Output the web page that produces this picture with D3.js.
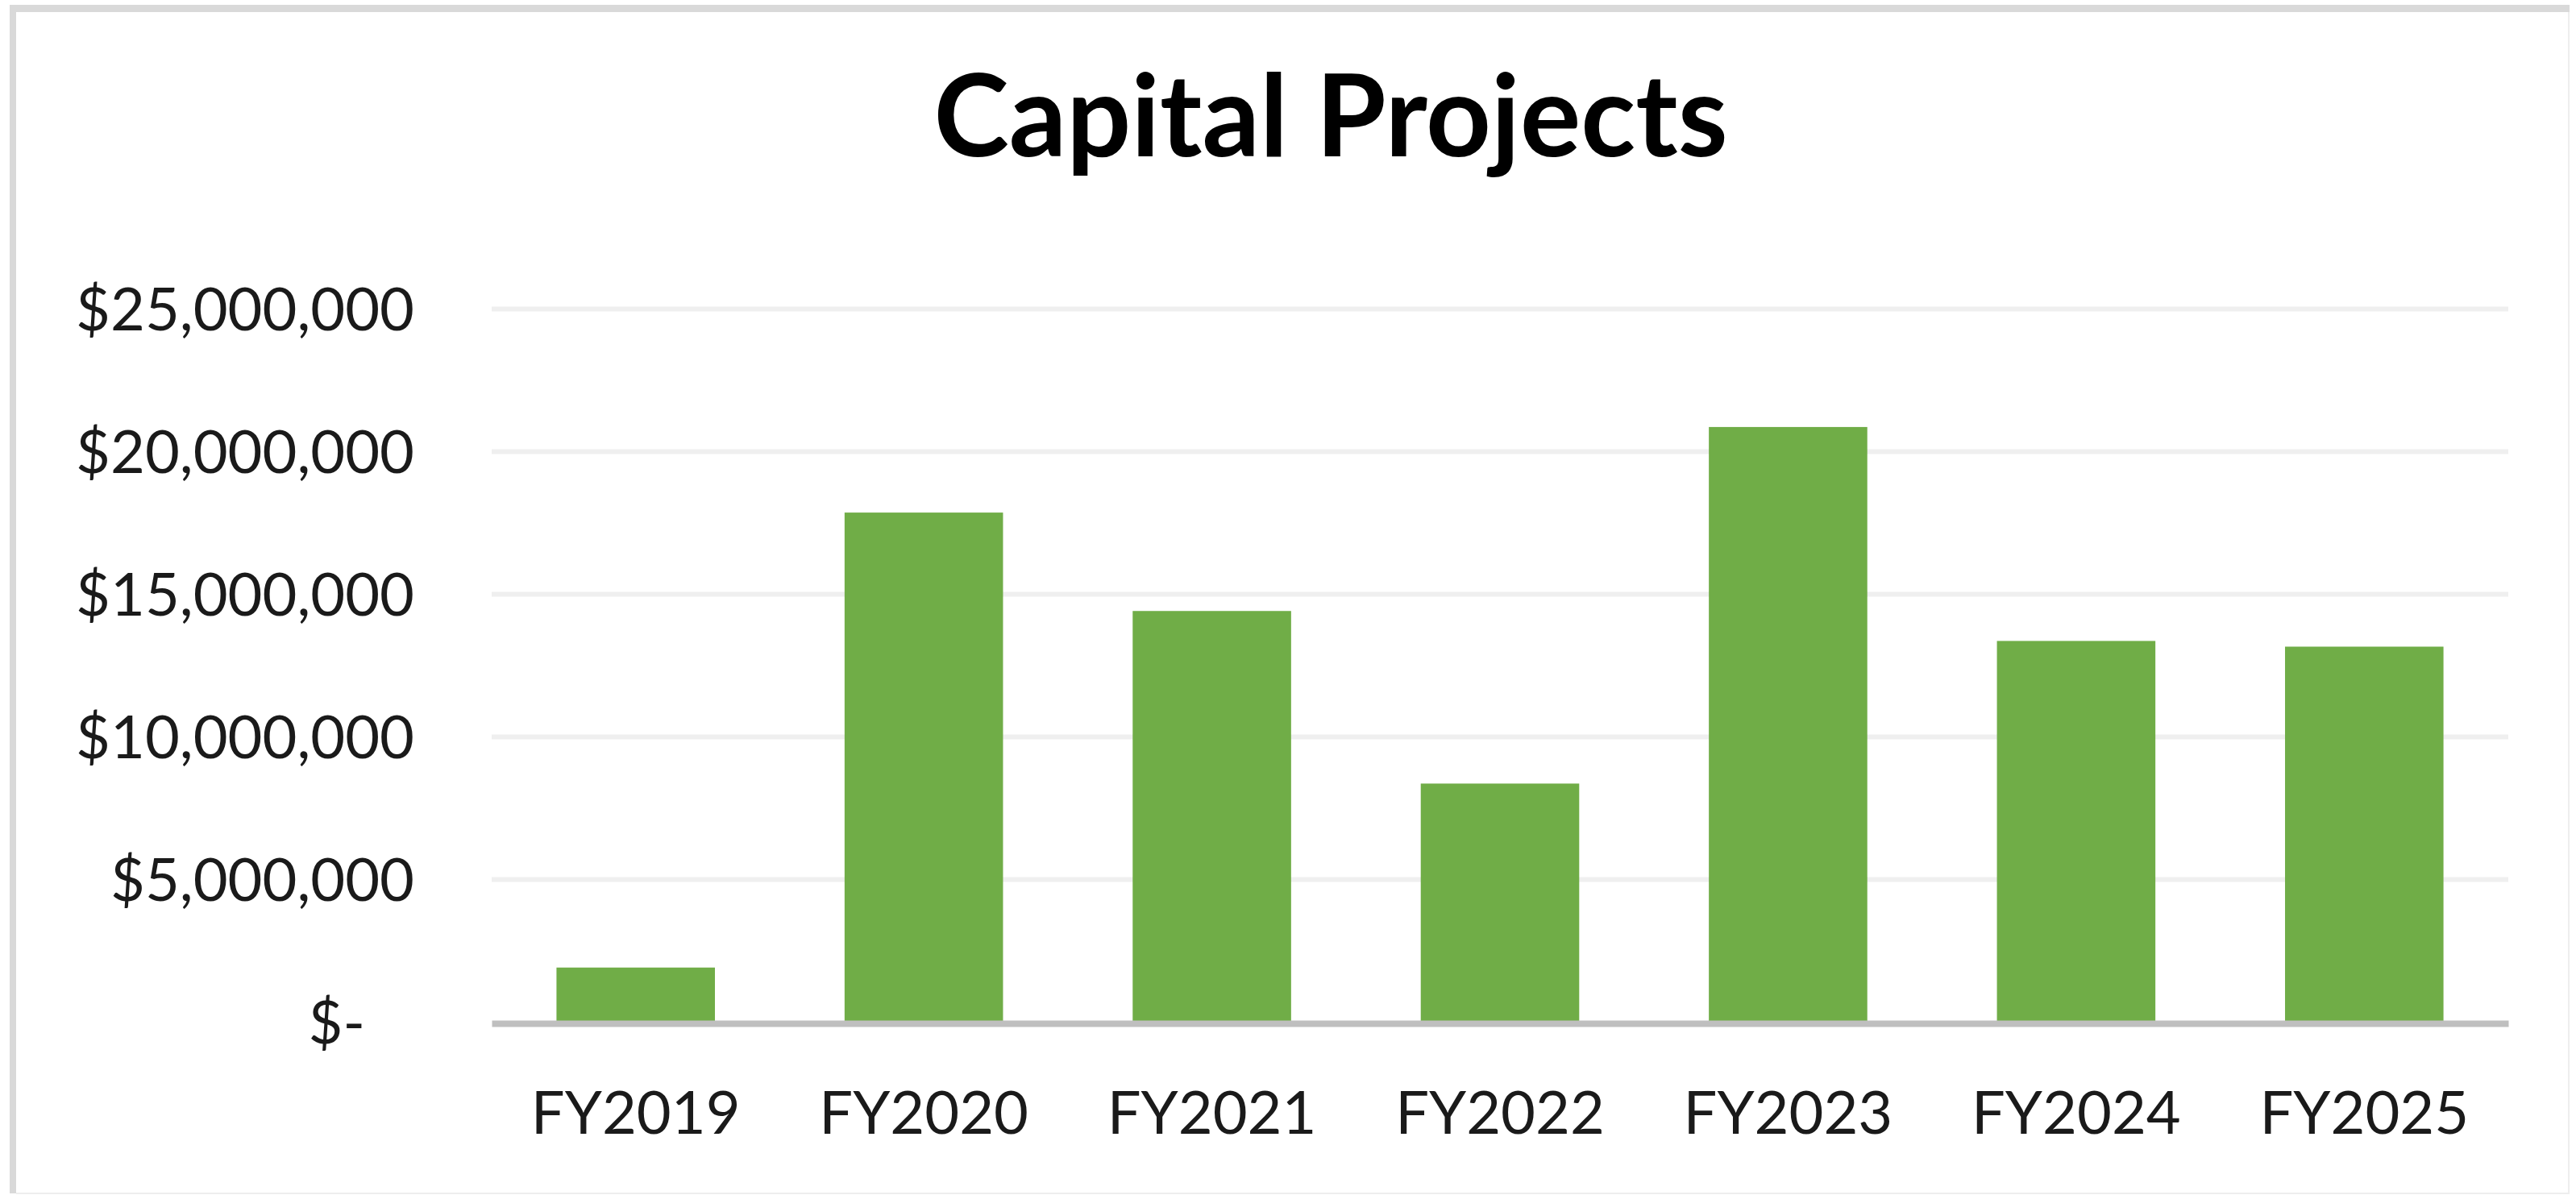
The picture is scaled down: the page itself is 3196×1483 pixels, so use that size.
<!DOCTYPE html>
<html>
<head>
<meta charset="utf-8">
<script src="https://cdn.jsdelivr.net/npm/d3@7"></script>
<style>
  html, body { margin: 0; padding: 0; background: #ffffff; }
  svg { display: block; }
</style>
</head>
<body>
<script>
// Capital project spending by fiscal year
const categories = ["FY2019", "FY2020", "FY2021", "FY2022", "FY2023", "FY2024", "FY2025"];
const values = [1900000, 17850000, 14400000, 8350000, 20850000, 13350000, 13150000];
const tickValues = [0, 5000000, 10000000, 15000000, 20000000, 25000000];
const tickLabels = ["$-", "$5,000,000", "$10,000,000", "$15,000,000", "$20,000,000", "$25,000,000"];
const title = "Capital Projects";

const W = 3196, H = 1483;
const plot = { left: 610, right: 3112, top: 383, bottom: 1268 };

const svg = d3.select("body").append("svg")
  .attr("width", W).attr("height", H);

svg.append("rect").attr("width", W).attr("height", H).attr("fill", "#ffffff");

// chart frame: heavier on the top and left edges, faint on the others
svg.append("line").attr("x1", 12).attr("x2", W - 8).attr("y1", 10.5).attr("y2", 10.5)
  .attr("stroke", "#d9d9d9").attr("stroke-width", 9);
svg.append("line").attr("x1", 16).attr("x2", 16).attr("y1", 6).attr("y2", H - 2)
  .attr("stroke", "#d9d9d9").attr("stroke-width", 8);
svg.append("line").attr("x1", W - 9).attr("x2", W - 9).attr("y1", 15).attr("y2", H - 2)
  .attr("stroke", "#eeeeee").attr("stroke-width", 2);
svg.append("line").attr("x1", 20).attr("x2", W - 8).attr("y1", H - 2).attr("y2", H - 2)
  .attr("stroke", "#eeeeee").attr("stroke-width", 2);

const x = d3.scaleBand()
  .domain(categories)
  .range([plot.left, plot.right])
  .paddingInner(0.45)
  .paddingOuter(0.225);

const y = d3.scaleLinear()
  .domain([0, 25000000])
  .range([plot.bottom, plot.top]);

// horizontal gridlines
const grid = svg.append("g")
  .attr("transform", `translate(${plot.left},0)`)
  .call(d3.axisLeft(y).tickValues(tickValues.slice(1))
    .tickSize(-(plot.right - plot.left)).tickFormat(""));
grid.select(".domain").remove();
grid.selectAll(".tick line").attr("stroke", "#efefef").attr("stroke-width", 6);

// y-axis labels
const yAxis = svg.append("g")
  .attr("transform", `translate(${plot.left},0)`)
  .call(d3.axisLeft(y).tickValues(tickValues).tickSize(0).tickPadding(96)
    .tickFormat((d, i) => tickLabels[i]));
yAxis.select(".domain").remove();
yAxis.selectAll(".tick text")
  .attr("font-family", "Lato, 'Open Sans', sans-serif")
  .attr("font-size", 74)
  .attr("fill", "#1a1a1a")
  .attr("dy", "0.36em")
  .attr("dx", (d) => d === 0 ? -61 : 0);

// bars
svg.append("g").selectAll("rect")
  .data(categories)
  .join("rect")
  .attr("x", (d) => x(d))
  .attr("width", x.bandwidth())
  .attr("y", (d, i) => y(values[i]))
  .attr("height", (d, i) => y(0) - y(values[i]))
  .attr("fill", "#70ad47");

// category axis
const xAxis = svg.append("g")
  .attr("transform", `translate(0,${plot.bottom + 2})`)
  .call(d3.axisBottom(x).tickSize(0).tickPadding(137));
xAxis.select(".domain")
  .attr("stroke", "#bfbfbf").attr("stroke-width", 8);
xAxis.selectAll(".tick text")
  .attr("font-family", "Lato, 'Open Sans', sans-serif")
  .attr("font-size", 74)
  .attr("fill", "#1a1a1a")
  .attr("dy", "0em");

// title
svg.append("text")
  .attr("x", 1651)
  .attr("y", 194)
  .attr("text-anchor", "middle")
  .attr("font-family", "Lato, 'Open Sans', sans-serif")
  .attr("font-weight", 700)
  .attr("font-size", 141)
  .attr("fill", "#000000")
  .text(title);
</script>
</body>
</html>
